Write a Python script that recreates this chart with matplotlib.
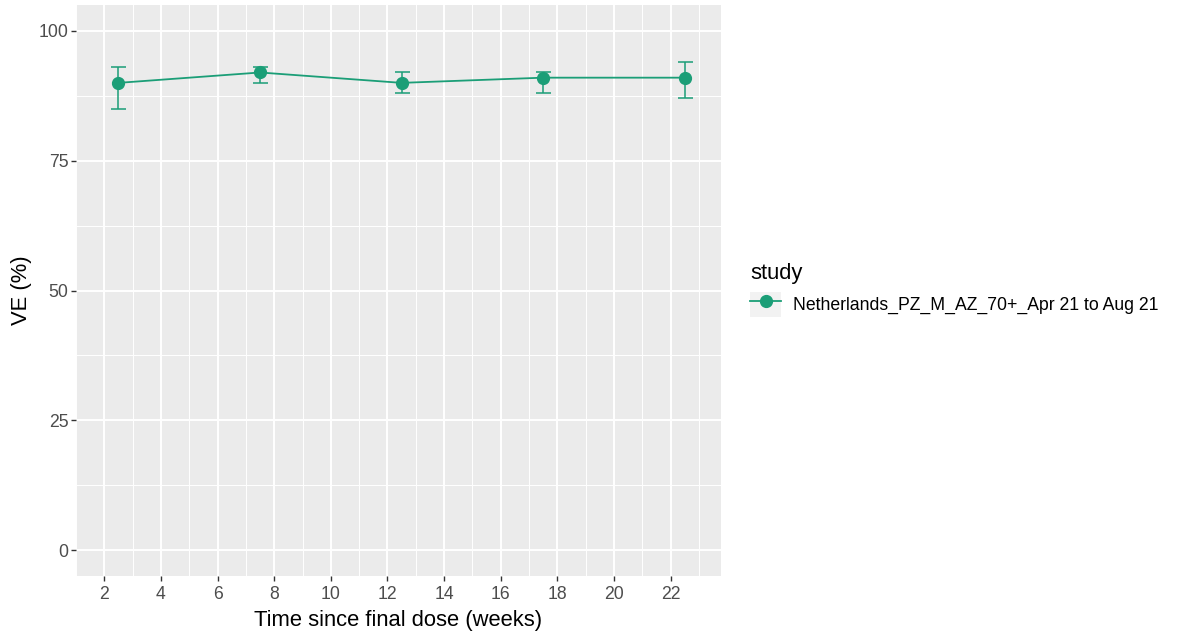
import matplotlib.pyplot as plt
from matplotlib.patches import Patch
from matplotlib.lines import Line2D
from matplotlib.legend_handler import HandlerTuple

plt.rcParams['font.family'] = ['Liberation Sans', 'DejaVu Sans']

weeks = [2.5, 7.5, 12.5, 17.5, 22.5]
ve = [90, 92, 90, 91, 91]
ve_low = [85, 90, 88, 88, 87]
ve_high = [93, 93, 92, 92, 94]
study = 'Netherlands_PZ_M_AZ_70+_Apr 21 to Aug 21'

col = '#1B9E77'
err_lo = [v - l for v, l in zip(ve, ve_low)]
err_hi = [h - v for v, h in zip(ve, ve_high)]

fig = plt.figure(figsize=(11.88, 6.32), dpi=100)
ax = fig.add_axes([76 / 1188, 1 - 576 / 632, 645 / 1188, 571 / 632])
ax.set_facecolor('#EBEBEB')

ax.plot(weeks, ve, color=col, lw=1.3, zorder=3)
ax.errorbar(weeks, ve, yerr=[err_lo, err_hi], fmt='o', color=col, ms=8.5,
            elinewidth=1.1, capsize=5.4, capthick=1.1, zorder=4)

ax.set_xlim(1.2, 23.78)
ax.set_ylim(-5, 105)
ax.set_xticks(range(2, 23, 2))
ax.set_xticks(range(1, 24, 2), minor=True)
ax.set_yticks([0, 25, 50, 75, 100])
ax.set_yticks([12.5, 37.5, 62.5, 87.5], minor=True)
ax.grid(which='major', color='white', lw=1.4)
ax.grid(which='minor', color='white', lw=0.7)
ax.set_axisbelow(True)
for s in ax.spines.values():
    s.set_visible(False)
ax.tick_params(which='major', length=3.5, width=1, color='#333333',
               labelcolor='#4D4D4D', labelsize=12.7)
ax.tick_params(axis='x', which='major', pad=3.5)
ax.tick_params(axis='y', which='major', pad=2)
ax.tick_params(which='minor', length=0)

ax.set_xlabel('Time since final dose (weeks)', fontsize=15.8, labelpad=5)
ax.set_ylabel('VE (%)', fontsize=15.8, labelpad=5)

# legend: title as separate text, key with grey background
fig.text(750 / 1188, 1 - 274 / 632, 'study', fontsize=15.8, ha='left', va='center')
h = (Patch(facecolor='#F2F2F2', edgecolor='none'),
     Line2D([], [], color=col, lw=1.3, marker='o', ms=8.5))
leg = fig.legend([h], [study], handler_map={tuple: HandlerTuple(ndivide=1, pad=0)},
                 loc='upper left', bbox_to_anchor=(750 / 1188, 1 - 292 / 632),
                 frameon=False, fontsize=12.7, borderpad=0,
                 handlelength=1.76, handleheight=1.76, handletextpad=0.68,
                 numpoints=1, borderaxespad=0)

fig.savefig('out.png', dpi=100)
